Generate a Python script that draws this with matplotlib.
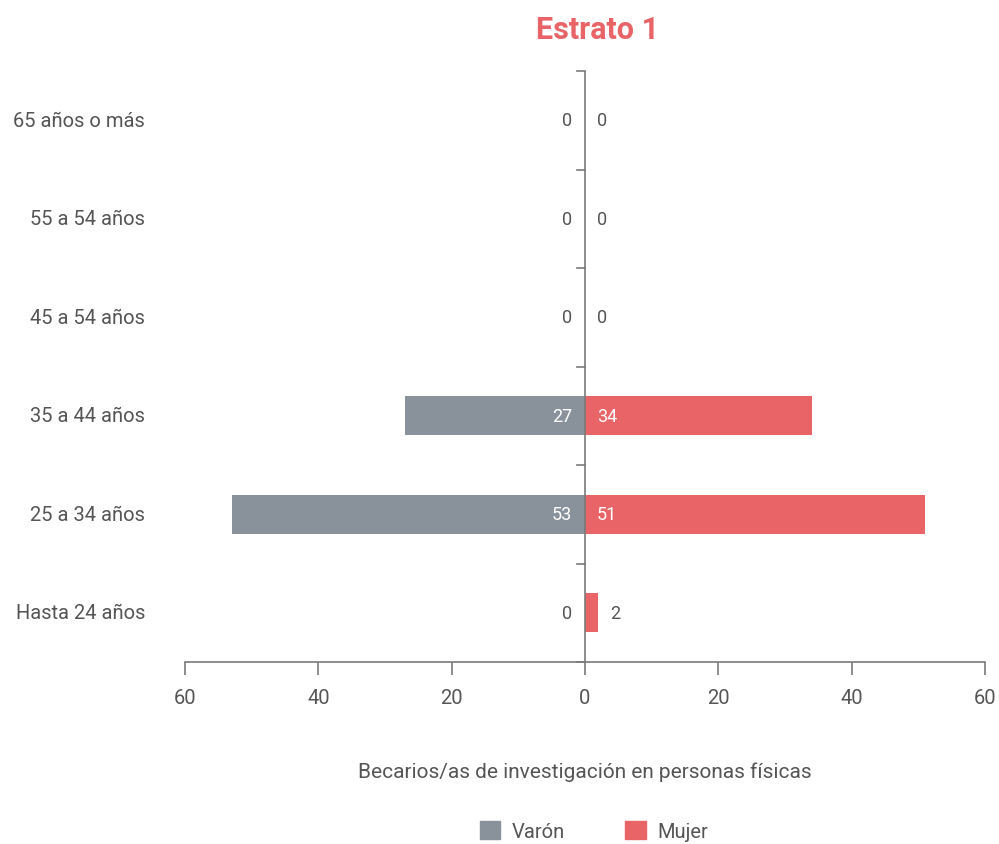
import matplotlib
matplotlib.use("Agg")
import matplotlib.pyplot as plt
from matplotlib.patches import Patch

plt.rcParams['font.family'] = ['Roboto', 'DejaVu Sans']

categorias = ["Hasta 24 años", "25 a 34 años", "35 a 44 años",
              "45 a 54 años", "55 a 54 años", "65 años o más"]
varon = [0, 53, 27, 0, 0, 0]
mujer = [2, 51, 34, 0, 0, 0]
ticks_x = [-60, -40, -20, 0, 20, 40, 60]
tick_labels = ["60", "40", "20", "0", "20", "40", "60"]

gris = "#89919b"
rojo = "#e96467"
texto = "#555555"
eje = "#7a7a7a"

fig = plt.figure(figsize=(9.99, 8.45), dpi=100)
ax = fig.add_axes([185 / 999, 1 - 663 / 845, 800 / 999, (663 - 72) / 845])

y = list(range(len(categorias)))
ax.barh(y, [-v for v in varon], height=0.4, color=gris)
ax.barh(y, mujer, height=0.4, color=rojo)

for i, (v, m) in enumerate(zip(varon, mujer)):
    ax.text(-1.9, i, str(v), ha="right", va="center", fontsize=13,
            color="white" if v > 5 else texto)
    if m > 5:
        ax.text(1.8, i, str(m), ha="left", va="center", fontsize=13, color="white")
    else:
        ax.text(m + 1.8, i, str(m), ha="left", va="center", fontsize=13, color=texto)

ax.set_xlim(-60, 60)
ax.set_ylim(-0.5, len(categorias) - 0.5)
ax.set_xticks(ticks_x)
ax.set_xticklabels(tick_labels, fontsize=14.5, color=texto)
ax.set_yticks([])

# eje central con marcas entre categorías
ax.axvline(0, color=eje, lw=1.2, zorder=3)
for b in range(len(categorias) + 1):
    ax.plot([-1.2, 0], [b - 0.5, b - 0.5], color=eje, lw=1.2, clip_on=False, zorder=3)

for i, c in enumerate(categorias):
    ax.text(-0.05, i, c, transform=ax.get_yaxis_transform(), ha="right", va="center",
            fontsize=14.5, color=texto)

for s in ["top", "right", "left"]:
    ax.spines[s].set_visible(False)
ax.spines["bottom"].set_color(eje)
ax.spines["bottom"].set_linewidth(1.2)
ax.tick_params(axis="x", length=9, width=1.2, color=eje, pad=10)

fig.text(598 / 999, 1 - 30 / 845, "Estrato 1", ha="center", va="center",
         fontsize=22, fontweight="bold", color=rojo)
fig.text(585 / 999, 1 - 772 / 845, "Becarios/as de investigación en personas físicas",
         ha="center", va="center", fontsize=15, color=texto)

handles = [Patch(color=gris, label="Varón"), Patch(color=rojo, label="Mujer")]
fig.legend(handles=handles, loc="center", bbox_to_anchor=(594 / 999, 1 - 832 / 845),
           ncol=2, frameon=False, fontsize=14.5, handlelength=1.0, handleheight=1.0,
           columnspacing=3.0, handletextpad=0.6, labelcolor=texto)

fig.savefig("out.png", dpi=100)
